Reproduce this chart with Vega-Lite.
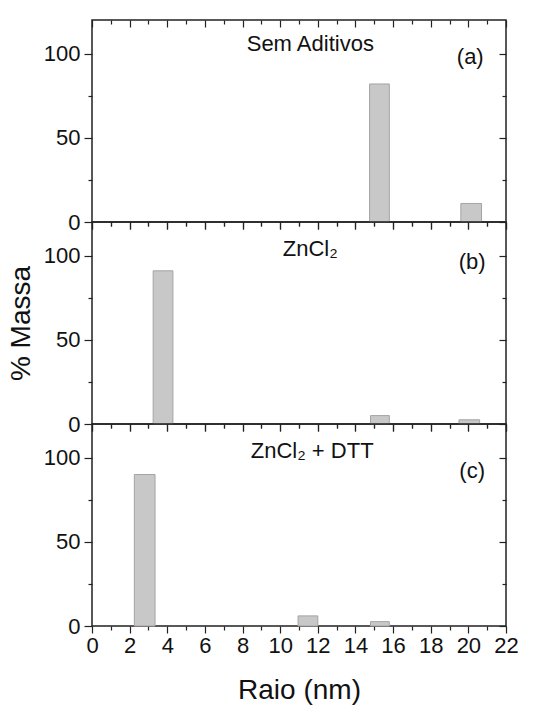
{
  "$schema": "https://vega.github.io/schema/vega-lite/v6.json",
  "padding": {"left": 6, "top": 18, "right": 5, "bottom": 4},
  "spacing": 0,
  "bounds": "flush",
  "datasets": {
    "bars": [
      {"painel": "a", "x0": 14.75, "x1": 15.8, "massa": 82},
      {"painel": "a", "x0": 19.6, "x1": 20.7, "massa": 11},
      {"painel": "b", "x0": 3.25, "x1": 4.3, "massa": 91},
      {"painel": "b", "x0": 14.8, "x1": 15.8, "massa": 5},
      {"painel": "b", "x0": 19.5, "x1": 20.6, "massa": 2.5},
      {"painel": "c", "x0": 2.25, "x1": 3.35, "massa": 90},
      {"painel": "c", "x0": 10.95, "x1": 12.0, "massa": 6},
      {"painel": "c", "x0": 14.8, "x1": 15.8, "massa": 2.6}
    ],
    "labels": [
      {"painel": "a", "lx": 11.6, "ly": 106, "texto": "Sem Aditivos"},
      {"painel": "a", "lx": 20.1, "ly": 98, "texto": "(a)"},
      {"painel": "b", "lx": 11.6, "ly": 104, "texto": "ZnCl₂"},
      {"painel": "b", "lx": 20.2, "ly": 96, "texto": "(b)"},
      {"painel": "c", "lx": 11.7, "ly": 104, "texto": "ZnCl₂ + DTT"},
      {"painel": "c", "lx": 20.2, "ly": 92, "texto": "(c)"}
    ]
  },
  "vconcat": [
    {
      "width": 414, "height": 202,
      "layer": [
        {
          "data": {"name": "bars"},
          "transform": [{"filter": "datum.painel === 'a'"}],
          "mark": {"type": "rect", "fill": "#c8c8c8", "stroke": "#a4a4a4", "strokeWidth": 1},
          "encoding": {
            "x": {"field": "x0", "type": "quantitative", "scale": {"domain": [0, 22], "nice": false},
                  "axis": {"orient": "bottom", "values": [0,1,2,3,4,5,6,7,8,9,10,11,12,13,14,15,16,17,18,19,20,21,22], "labels": false, "title": null, "domain": false, "grid": false,
                           "tickSize": {"condition": {"test": "datum.value % 2 === 0", "value": 7}, "value": 4}}},
            "x2": {"field": "x1"},
            "y": {"field": "massa", "type": "quantitative", "scale": {"domain": [0, 120], "nice": false},
                  "axis": {"orient": "left", "values": [0, 25, 50, 75, 100], "title": null, "domain": false, "grid": false,
                           "labelExpr": "datum.value % 50 === 0 ? datum.label : ''",
                           "tickSize": {"condition": {"test": "datum.value % 50 === 0", "value": 8}, "value": 4}}},
            "y2": {"datum": 0}
          }
        },
        {
          "data": {"name": "labels"},
          "transform": [{"filter": "datum.painel === 'a'"}],
          "mark": {"type": "text", "font": "Liberation Sans", "fontSize": 22, "color": "#111111", "baseline": "middle", "align": "center"},
          "encoding": {
            "x": {"field": "lx", "type": "quantitative", "scale": {"domain": [0, 22], "nice": false},
                  "axis": {"orient": "top", "values": [0,1,2,3,4,5,6,7,8,9,10,11,12,13,14,15,16,17,18,19,20,21,22], "labels": false, "title": null, "domain": false, "grid": false,
                           "tickSize": {"condition": {"test": "datum.value % 2 === 0", "value": -7}, "value": -4}}},
            "y": {"field": "ly", "type": "quantitative", "scale": {"domain": [0, 120], "nice": false},
                  "axis": {"orient": "right", "values": [0, 25, 50, 75, 100], "labels": false, "title": null, "domain": false, "grid": false,
                           "tickSize": {"condition": {"test": "datum.value % 50 === 0", "value": -7}, "value": -4}}},
            "text": {"field": "texto"}
          }
        }
      ],
      "resolve": {"axis": {"x": "independent", "y": "independent"}}
    },
    {
      "width": 414, "height": 202,
      "layer": [
        {
          "data": {"name": "bars"},
          "transform": [{"filter": "datum.painel === 'b'"}],
          "mark": {"type": "rect", "fill": "#c8c8c8", "stroke": "#a4a4a4", "strokeWidth": 1},
          "encoding": {
            "x": {"field": "x0", "type": "quantitative", "scale": {"domain": [0, 22], "nice": false},
                  "axis": {"orient": "bottom", "values": [0,1,2,3,4,5,6,7,8,9,10,11,12,13,14,15,16,17,18,19,20,21,22], "labels": false, "title": null, "domain": false, "grid": false,
                           "tickSize": {"condition": {"test": "datum.value % 2 === 0", "value": 7}, "value": 4}}},
            "x2": {"field": "x1"},
            "y": {"field": "massa", "type": "quantitative", "scale": {"domain": [0, 120], "nice": false},
                  "axis": {"orient": "left", "values": [0, 25, 50, 75, 100], "title": "% Massa", "domain": false, "grid": false,
                           "labelExpr": "datum.value % 50 === 0 ? datum.label : ''",
                           "tickSize": {"condition": {"test": "datum.value % 50 === 0", "value": 8}, "value": 4}}},
            "y2": {"datum": 0}
          }
        },
        {
          "data": {"name": "labels"},
          "transform": [{"filter": "datum.painel === 'b'"}],
          "mark": {"type": "text", "font": "Liberation Sans", "fontSize": 22, "color": "#111111", "baseline": "middle", "align": "center"},
          "encoding": {
            "x": {"field": "lx", "type": "quantitative", "scale": {"domain": [0, 22], "nice": false},
                  "axis": {"orient": "top", "values": [0,1,2,3,4,5,6,7,8,9,10,11,12,13,14,15,16,17,18,19,20,21,22], "labels": false, "title": null, "domain": false, "grid": false,
                           "tickSize": {"condition": {"test": "datum.value % 2 === 0", "value": -7}, "value": -4}}},
            "y": {"field": "ly", "type": "quantitative", "scale": {"domain": [0, 120], "nice": false},
                  "axis": {"orient": "right", "values": [0, 25, 50, 75, 100], "labels": false, "title": null, "domain": false, "grid": false,
                           "tickSize": {"condition": {"test": "datum.value % 50 === 0", "value": -7}, "value": -4}}},
            "text": {"field": "texto"}
          }
        }
      ],
      "resolve": {"axis": {"x": "independent", "y": "independent"}}
    },
    {
      "width": 414, "height": 202,
      "layer": [
        {
          "data": {"name": "bars"},
          "transform": [{"filter": "datum.painel === 'c'"}],
          "mark": {"type": "rect", "fill": "#c8c8c8", "stroke": "#a4a4a4", "strokeWidth": 1},
          "encoding": {
            "x": {"field": "x0", "type": "quantitative", "scale": {"domain": [0, 22], "nice": false},
                  "axis": {"orient": "bottom", "values": [0,1,2,3,4,5,6,7,8,9,10,11,12,13,14,15,16,17,18,19,20,21,22], "title": "Raio (nm)", "domain": false, "grid": false,
                           "labelExpr": "datum.value % 2 === 0 ? datum.label : ''", "labelPadding": 2, "titlePadding": 20,
                           "tickSize": {"condition": {"test": "datum.value % 2 === 0", "value": 7}, "value": 4}}},
            "x2": {"field": "x1"},
            "y": {"field": "massa", "type": "quantitative", "scale": {"domain": [0, 120], "nice": false},
                  "axis": {"orient": "left", "values": [0, 25, 50, 75, 100], "title": null, "domain": false, "grid": false,
                           "labelExpr": "datum.value % 50 === 0 ? datum.label : ''",
                           "tickSize": {"condition": {"test": "datum.value % 50 === 0", "value": 8}, "value": 4}}},
            "y2": {"datum": 0}
          }
        },
        {
          "data": {"name": "labels"},
          "transform": [{"filter": "datum.painel === 'c'"}],
          "mark": {"type": "text", "font": "Liberation Sans", "fontSize": 22, "color": "#111111", "baseline": "middle", "align": "center"},
          "encoding": {
            "x": {"field": "lx", "type": "quantitative", "scale": {"domain": [0, 22], "nice": false},
                  "axis": {"orient": "top", "values": [0,1,2,3,4,5,6,7,8,9,10,11,12,13,14,15,16,17,18,19,20,21,22], "labels": false, "title": null, "domain": false, "grid": false,
                           "tickSize": {"condition": {"test": "datum.value % 2 === 0", "value": -7}, "value": -4}}},
            "y": {"field": "ly", "type": "quantitative", "scale": {"domain": [0, 120], "nice": false},
                  "axis": {"orient": "right", "values": [0, 25, 50, 75, 100], "labels": false, "title": null, "domain": false, "grid": false,
                           "tickSize": {"condition": {"test": "datum.value % 50 === 0", "value": -7}, "value": -4}}},
            "text": {"field": "texto"}
          }
        }
      ],
      "resolve": {"axis": {"x": "independent", "y": "independent"}}
    }
  ],
  "config": {
    "background": "white",
    "view": {"stroke": "#222222", "strokeWidth": 1.5},
    "axis": {
      "tickColor": "#222222", "tickWidth": 1.2, "labelColor": "#111111", "labelFlush": false, "labelOverlap": false,
      "labelFont": "Liberation Sans", "labelFontSize": 22, "labelPadding": 4,
      "titleFont": "Liberation Sans", "titleFontSize": 28, "titleFontWeight": "normal", "titleColor": "#111111", "titlePadding": 8
    }
  }
}
